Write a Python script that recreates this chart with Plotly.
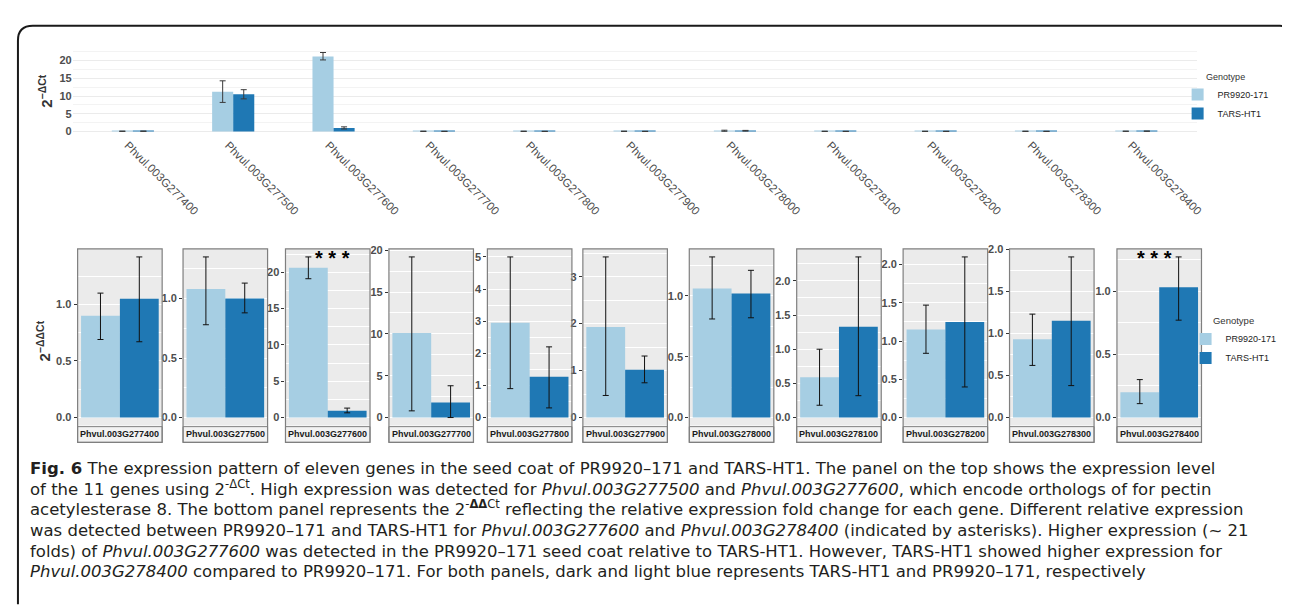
import numpy as np
import plotly.graph_objects as go

W, H = 1290, 615
def X(px):
    return px / W
def Y(py):
    return 1 - py / H

LIGHT = "#A6CEE3"
DARK = "#1F78B4"

genes = ["Phvul.003G277400", "Phvul.003G277500", "Phvul.003G277600", "Phvul.003G277700",
         "Phvul.003G277800", "Phvul.003G277900", "Phvul.003G278000", "Phvul.003G278100",
         "Phvul.003G278200", "Phvul.003G278300", "Phvul.003G278400"]
genotypes = ["PR9920-171", "TARS-HT1"]

# top panel: 2^-dCt
dct_pr = [0.06, 11.2, 21.2, 0.04, 0.04, 0.05, 0.20, 0.04, 0.04, 0.04, 0.06]
dct_pr_lo = [0.02, 8.2, 20.2, 0.00, 0.00, 0.00, 0.05, 0.00, 0.00, 0.00, 0.02]
dct_pr_hi = [0.10, 14.3, 22.3, 0.09, 0.09, 0.10, 0.35, 0.08, 0.08, 0.09, 0.10]
dct_tars = [0.07, 10.5, 1.0, 0.02, 0.02, 0.02, 0.20, 0.02, 0.02, 0.02, 0.08]
dct_tars_lo = [0.03, 9.2, 0.7, 0.00, 0.00, 0.00, 0.10, 0.00, 0.00, 0.00, 0.04]
dct_tars_hi = [0.11, 11.8, 1.3, 0.05, 0.05, 0.05, 0.30, 0.05, 0.05, 0.05, 0.12]

# bottom panels: 2^-ddCt
ddct_pr = [0.90, 1.08, 20.6, 10.1, 2.95, 1.93, 1.06, 0.59, 1.15, 0.93, 0.20]
ddct_pr_lo = [0.69, 0.78, 19.1, 0.80, 0.90, 0.47, 0.81, 0.18, 0.84, 0.62, 0.11]
ddct_pr_hi = [1.10, 1.35, 22.1, 19.2, 5.00, 3.42, 1.32, 1.00, 1.47, 1.23, 0.30]
ddct_tars = [1.05, 1.00, 0.95, 1.80, 1.27, 1.02, 1.02, 1.33, 1.25, 1.15, 1.03]
ddct_tars_lo = [0.67, 0.88, 0.65, 0.00, 0.30, 0.74, 0.82, 0.32, 0.40, 0.38, 0.77]
ddct_tars_hi = [1.42, 1.13, 1.30, 3.80, 2.20, 1.31, 1.21, 2.35, 2.10, 1.91, 1.27]
tick_step = [0.5, 0.5, 5, 5, 1, 1, 0.5, 0.5, 0.5, 0.5, 0.5]
significant = ["Phvul.003G277600", "Phvul.003G278400"]

def err(mean, lo, hi, color):
    m, l, h = np.array(mean), np.array(lo), np.array(hi)
    return dict(type="data", symmetric=False, array=(h - m).tolist(),
                arrayminus=(m - l).tolist(), color=color, thickness=1, width=3)

fig = go.Figure()

# ---- top panel
fig.add_trace(go.Bar(x=genes, y=dct_pr, offset=-0.21, width=0.21, marker_color=LIGHT,
                     marker_line_width=0, name=genotypes[0], legend="legend",
                     error_y=err(dct_pr, dct_pr_lo, dct_pr_hi, "#3a3a3a"),
                     xaxis="x", yaxis="y"))
fig.add_trace(go.Bar(x=genes, y=dct_tars, offset=0.0, width=0.21, marker_color=DARK,
                     marker_line_width=0, name=genotypes[1], legend="legend",
                     error_y=err(dct_tars, dct_tars_lo, dct_tars_hi, "#3a3a3a"),
                     xaxis="x", yaxis="y"))

FONT = "Liberation Sans, Arial"
top_max = max(max(dct_pr_hi), max(dct_tars_hi))
layout = dict(
    width=W, height=H, margin=dict(l=0, r=0, t=0, b=0),
    paper_bgcolor="white", plot_bgcolor="rgba(0,0,0,0)",
    barmode="overlay", showlegend=True,
    xaxis=dict(domain=[X(65), X(1195)], range=[-0.6, len(genes) - 0.4], type="category",
               tickangle=45, showgrid=False, zeroline=False, showline=False, ticks="",
               ticklabelshift=-5,
               tickfont=dict(family=FONT, size=11.5, color="#4D4D4D"),
               anchor="y"),
    yaxis=dict(domain=[Y(123), Y(35)], range=[-0.05 * top_max, 1.05 * top_max], dtick=5,
               showgrid=True, gridcolor="#EBEBEB", gridwidth=1, zeroline=False,
               showline=False, ticks="",
               minor=dict(dtick=2.5, showgrid=True, gridcolor="#F3F3F3", gridwidth=0.6),
               tickfont=dict(family=FONT, size=11, color="#4D4D4D", weight="bold"),
               anchor="x"),
    legend=dict(x=X(1176), y=Y(55), xanchor="left", yanchor="top",
                bgcolor="rgba(0,0,0,0)", tracegroupgap=0,
                font=dict(family=FONT, size=9, color="#222"),
                title=dict(text="Genotype", side="top center",
                           font=dict(family=FONT, size=9, color="#333"))),
    legend2=dict(x=X(1184), y=Y(302), xanchor="left", yanchor="top",
                 bgcolor="rgba(0,0,0,0)", tracegroupgap=0,
                 font=dict(family=FONT, size=9, color="#222"),
                 title=dict(text="Genotype", side="top center",
                            font=dict(family=FONT, size=9.5, color="#333"))),
)

shapes = []
annotations = []

# ---- bottom facets
lefts = [70, 176, 279, 383, 482, 578, 685, 793, 900, 1007, 1115]
fw = 85
ptop, pbot = 238, 417
strip_h = (434 - pbot) / (pbot - ptop)
for i, g in enumerate(genes):
    n = i + 2
    fig.add_trace(go.Bar(x=[1], y=[ddct_pr[i]], offset=-0.45, width=0.45, marker_color=LIGHT,
                         marker_line_width=0, name=genotypes[0], legend="legend2",
                         legendgroup="pr2", showlegend=(i == 0),
                         error_y=err([ddct_pr[i]], [ddct_pr_lo[i]], [ddct_pr_hi[i]], "#111"),
                         xaxis=f"x{n}", yaxis=f"y{n}"))
    fig.add_trace(go.Bar(x=[1], y=[ddct_tars[i]], offset=0.0, width=0.45, marker_color=DARK,
                         marker_line_width=0, name=genotypes[1], legend="legend2",
                         legendgroup="tars2", showlegend=(i == 0),
                         error_y=err([ddct_tars[i]], [ddct_tars_lo[i]], [ddct_tars_hi[i]], "#111"),
                         xaxis=f"x{n}", yaxis=f"y{n}"))
    ymax = max(ddct_pr_hi[i], ddct_tars_hi[i])
    step = tick_step[i]
    layout[f"xaxis{n}"] = dict(domain=[X(lefts[i]), X(lefts[i] + fw)], range=[0.51, 1.49],
                               showticklabels=False, showgrid=False, zeroline=False,
                               showline=False, ticks="", anchor=f"y{n}")
    layout[f"yaxis{n}"] = dict(domain=[Y(pbot), Y(ptop)], range=[-0.05 * ymax, 1.05 * ymax],
                               dtick=step, tickformat=(".1f" if step < 1 else "d"),
                               ticks="outside", ticklen=3, tickcolor="#333", tickwidth=1,
                               showgrid=True, gridcolor="white", gridwidth=1.1,
                               minor=dict(dtick=step / 2, showgrid=True, gridcolor="white",
                                          gridwidth=0.5),
                               zeroline=False, showline=False,
                               tickfont=dict(family=FONT, size=11, color="#4D4D4D",
                                             weight="bold"),
                               anchor=f"x{n}")
    xd, yd = f"x{n} domain", f"y{n} domain"
    shapes.append(dict(type="rect", xref=xd, yref=yd, x0=0, x1=1, y0=0, y1=1,
                       fillcolor="#EBEBEB", line=dict(width=0), layer="below"))
    shapes.append(dict(type="rect", xref=xd, yref=yd, x0=0, x1=1, y0=-strip_h, y1=-0.006,
                       fillcolor="#F2F2F2", line=dict(color="#7F7F7F", width=1), layer="below"))
    shapes.append(dict(type="rect", xref=xd, yref=yd, x0=0, x1=1, y0=-strip_h, y1=1,
                       fillcolor="rgba(0,0,0,0)", line=dict(color="#7F7F7F", width=1.2),
                       layer="above"))
    annotations.append(dict(text=g, xref=xd, yref=yd, x=0.5, y=-strip_h / 2 - 0.003,
                            xanchor="center", yanchor="middle", showarrow=False,
                            font=dict(family=FONT, size=9, color="#1a1a1a", weight="bold")))
    if g in significant:
        sx = 1.05 if i == 2 else 0.94
        annotations.append(dict(text="* * *", xref=f"x{n}", yref=yd, x=sx, y=0.95,
                                xanchor="center", yanchor="middle", showarrow=False,
                                font=dict(family=FONT, size=20, color="black", weight="bold")))

# axis titles
annotations.append(dict(text="2<sup>−ΔCt</sup>", xref="paper", yref="paper",
                        x=X(38), y=Y(78), xanchor="center", yanchor="middle", textangle=-90,
                        showarrow=False,
                        font=dict(family=FONT, size=15, color="#333", weight="bold")))
annotations.append(dict(text="2<sup>−ΔΔCt</sup>", xref="paper", yref="paper",
                        x=X(36), y=Y(331), xanchor="center", yanchor="middle", textangle=-90,
                        showarrow=False,
                        font=dict(family=FONT, size=15, color="#333", weight="bold")))

# caption
caption = [
    "<b>Fig. 6</b> The expression pattern of eleven genes in the seed coat of PR9920–171 and TARS-HT1. The panel on the top shows the expression level",
    "of the 11 genes using 2<sup>-ΔCt</sup>. High expression was detected for <i>Phvul.003G277500</i> and <i>Phvul.003G277600</i>, which encode orthologs of for pectin",
    "acetylesterase 8. The bottom panel represents the 2<sup>-<b>ΔΔ</b>Ct</sup> reflecting the relative expression fold change for each gene. Different relative expression",
    "was detected between PR9920–171 and TARS-HT1 for <i>Phvul.003G277600</i> and <i>Phvul.003G278400</i> (indicated by asterisks). Higher expression (~ 21",
    "folds) of <i>Phvul.003G277600</i> was detected in the PR9920–171 seed coat relative to TARS-HT1. However, TARS-HT1 showed higher expression for",
    "<i>Phvul.003G278400</i> compared to PR9920–171. For both panels, dark and light blue represents TARS-HT1 and PR9920–171, respectively",
]
line_y = [463, 484, 505, 526, 547, 568]
for t, yy in zip(caption, line_y):
    annotations.append(dict(text=t, xref="paper", yref="paper", x=X(20), y=Y(yy + 9),
                            xanchor="left", yanchor="bottom", showarrow=False, align="left",
                            font=dict(family="DejaVu Sans", size=16.5, color="#231F20")))

# frame
frame = (f"M {X(10)},{Y(598)} L {X(10)},{Y(27)} Q {X(10)},{Y(12)} {X(25)},{Y(12)} "
         f"L {X(1279)},{Y(12)} Q {X(1289)},{Y(12)} {X(1289)},{Y(22)}")
shapes.append(dict(type="path", xref="paper", yref="paper", path=frame,
                   line=dict(color="#1a1a1a", width=2)))

layout["shapes"] = shapes
layout["annotations"] = annotations
fig.update_layout(**layout)
fig.write_html("out.html")
